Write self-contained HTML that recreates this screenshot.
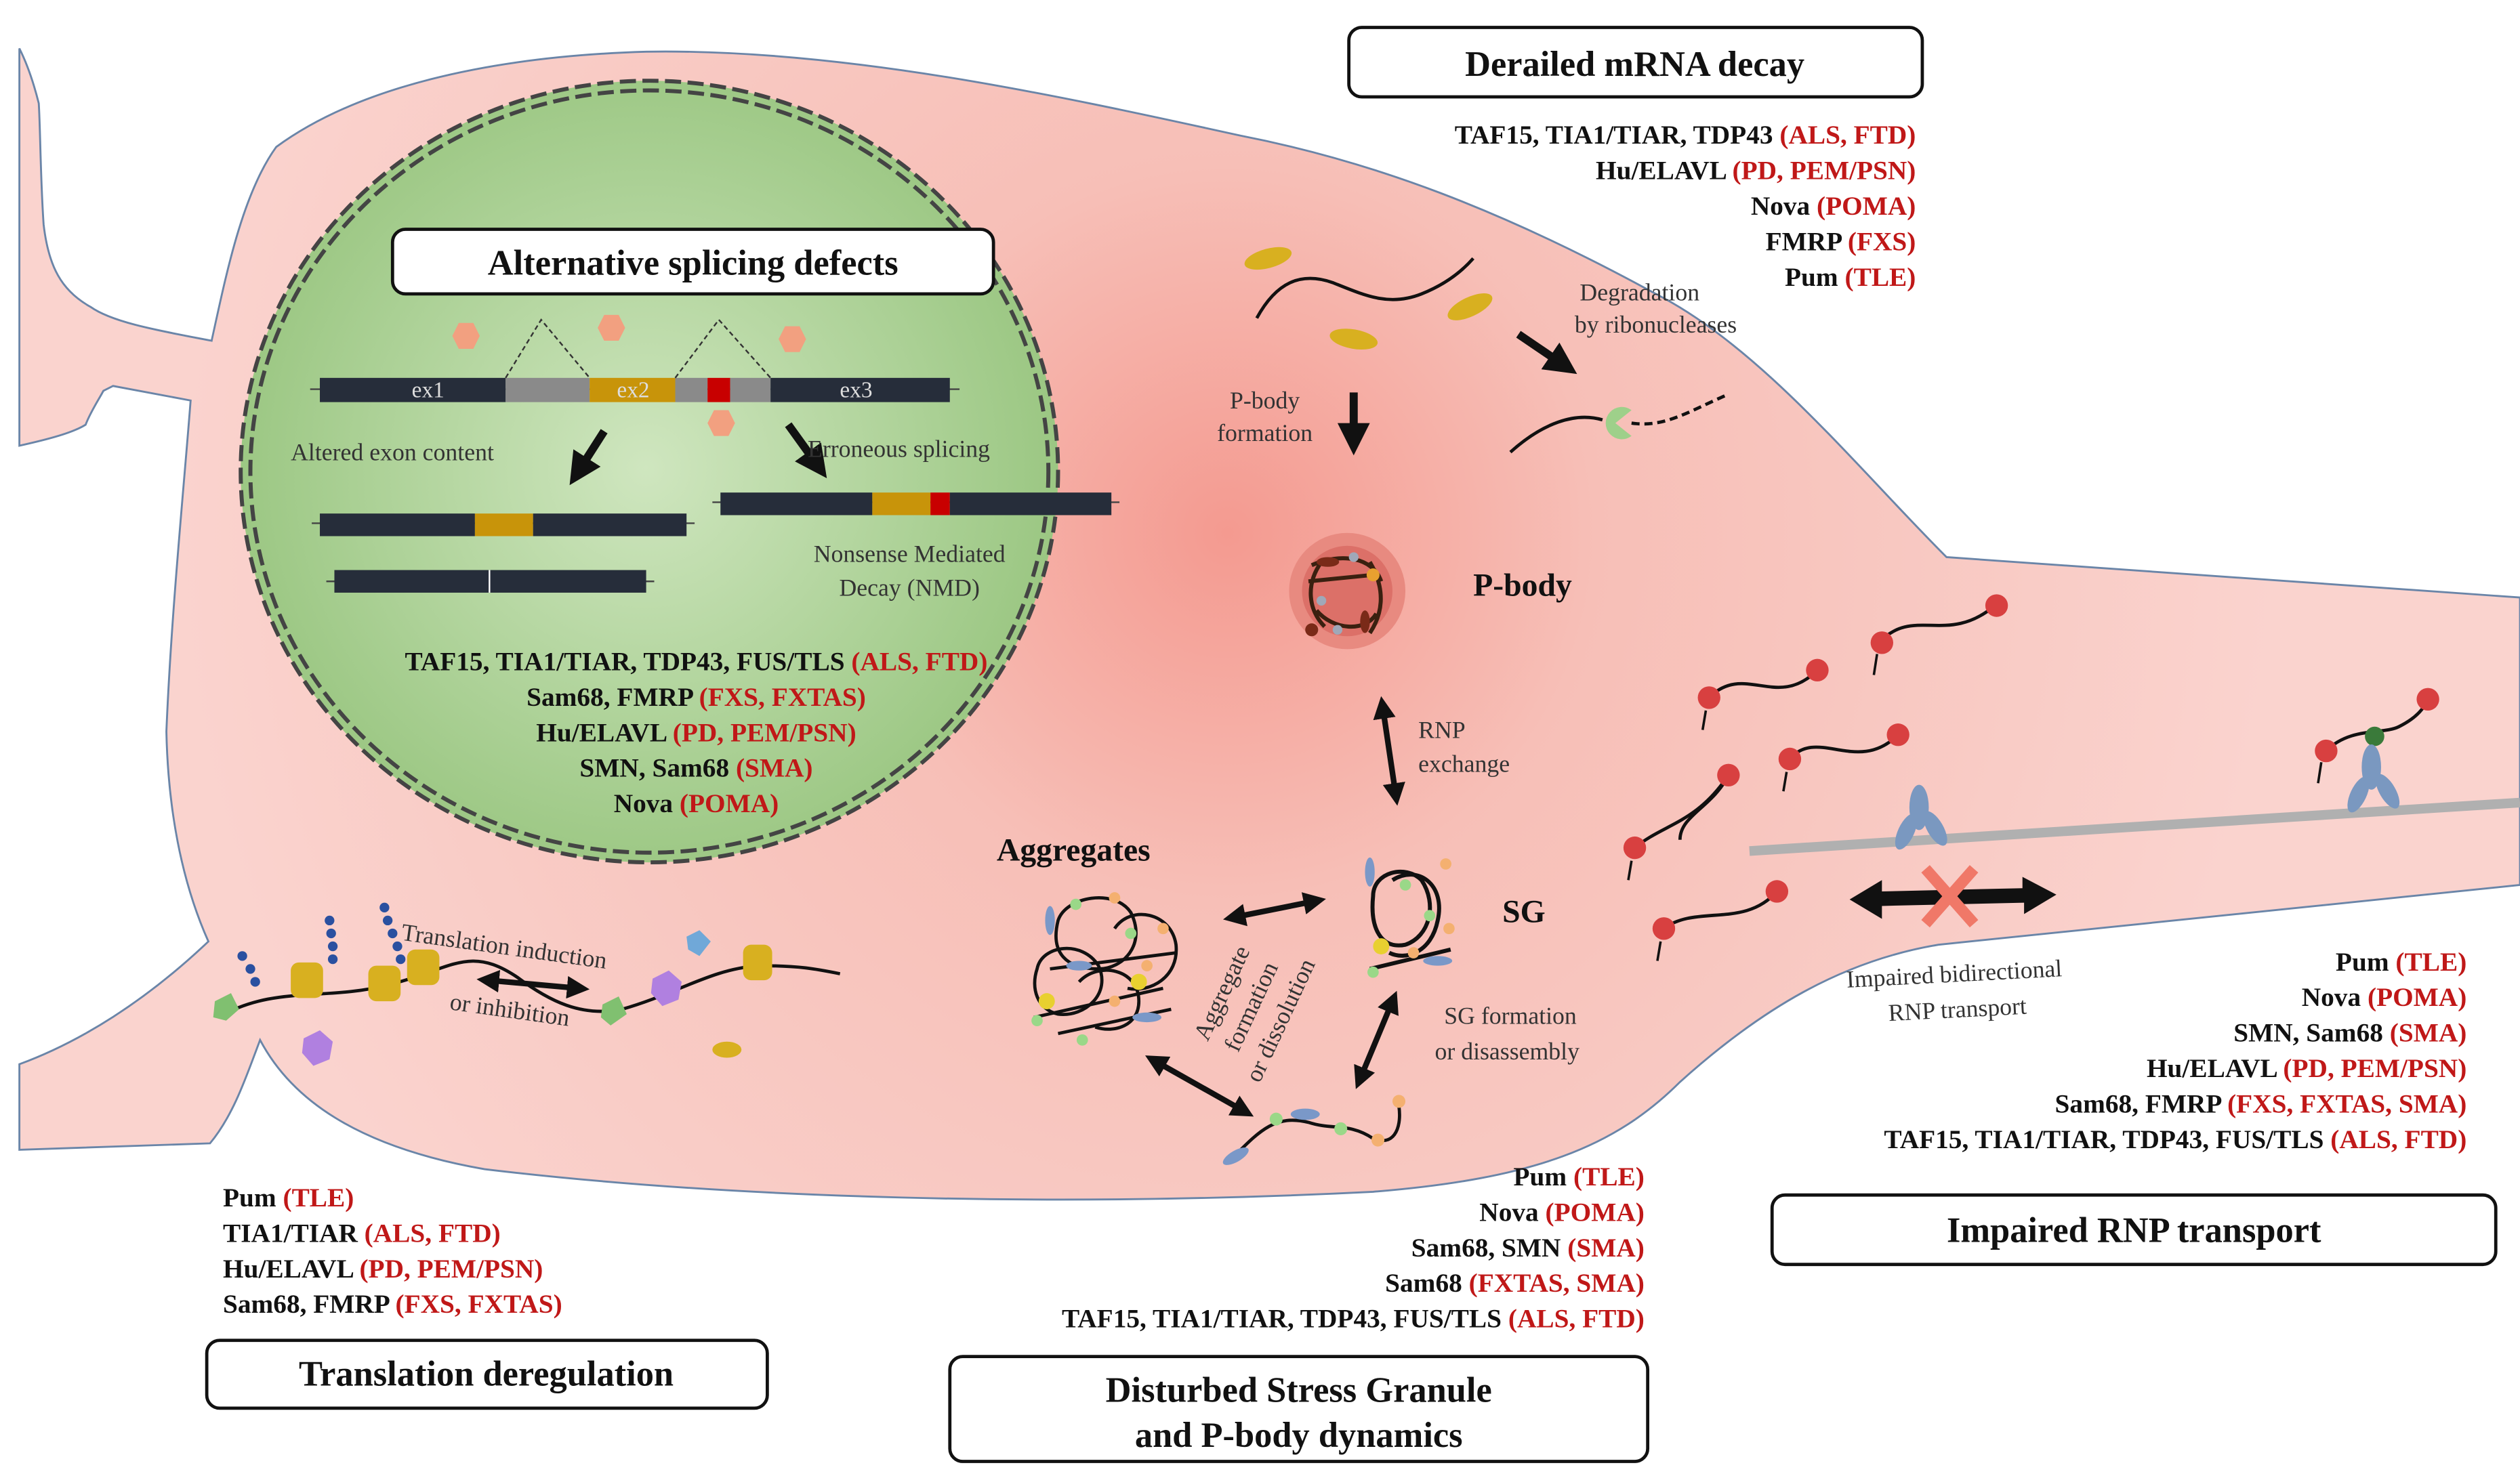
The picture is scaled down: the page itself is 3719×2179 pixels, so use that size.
<!DOCTYPE html>
<html><head><meta charset="utf-8"><style>
html,body{margin:0;padding:0;background:#fff;}
svg{display:block;}
text{font-family:"Liberation Serif",serif;}
.b{font-weight:bold;font-size:16.5px;fill:#111;}
.r{fill:#c01818;}
.t{font-size:15px;fill:#333;}
.h{font-size:22px;font-weight:bold;fill:#111;}
</style></head><body>
<svg width="3719" height="2179" viewBox="0 0 1560 914" preserveAspectRatio="none" xmlns="http://www.w3.org/2000/svg">
<defs>
<radialGradient id="pk" cx="760" cy="330" r="650" gradientUnits="userSpaceOnUse">
<stop offset="0" stop-color="#f49a90"/><stop offset="0.35" stop-color="#f7bfb7"/><stop offset="1" stop-color="#fad3ce"/></radialGradient>
<radialGradient id="gr" cx="400" cy="290" r="270" gradientUnits="userSpaceOnUse">
<stop offset="0" stop-color="#cfe6bf"/><stop offset="1" stop-color="#98c57f"/></radialGradient>
<marker id="ah" markerWidth="4" markerHeight="4" refX="2" refY="2" orient="auto"><path d="M0,0 L4,2 L0,4 z" fill="#111"/></marker>
<marker id="as" markerWidth="4" markerHeight="4" refX="2" refY="2" orient="auto-start-reverse"><path d="M0,0 L4,2 L0,4 z" fill="#111"/></marker>
</defs>
<rect width="1560" height="914" fill="#fff"/>
<!-- cell -->
<path d="M12,30 L12,276 C30,272 45,268 53,263 C56,255 62,246 64,242 L70,239 L118,248 C114,300 106,380 103,453 C104,500 112,545 129,583 C90,620 50,645 12,659 L12,712 L130,708 C145,690 153,665 161,644 C180,680 220,710 300,724 C450,742 650,748 850,738 C950,730 1000,710 1040,670 C1090,625 1140,595 1200,585 L1560,548 L1560,370 L1205,345 C1150,290 1090,215 1025,182 C930,130 850,100 768,84 C650,58 520,30 400,32 C300,35 220,55 171,91 C150,120 140,170 131,211 C100,205 70,200 56,190 C38,180 30,165 27,139 C25,110 25,80 24,64 C20,48 16,38 12,30 Z" fill="url(#pk)" stroke="#6a85a8" stroke-width="1.2"/>
<!-- green nucleus -->
<ellipse cx="402" cy="292" rx="253" ry="242" fill="url(#gr)" stroke="#444" stroke-width="2.5" stroke-dasharray="10,4"/>
<ellipse cx="402" cy="292" rx="247" ry="236" fill="none" stroke="#444" stroke-width="2.5" stroke-dasharray="10,4"/>
<!-- title boxes -->
<rect x="835" y="17" width="355" height="43" rx="8" fill="#fff" stroke="#111" stroke-width="2"/>
<text x="1012" y="47" text-anchor="middle" class="h">Derailed mRNA decay</text>
<rect x="243" y="142" width="372" height="40" rx="8" fill="#fff" stroke="#111" stroke-width="2"/>
<text x="429" y="170" text-anchor="middle" class="h">Alternative splicing defects</text>
<rect x="128" y="830" width="347" height="42" rx="8" fill="#fff" stroke="#111" stroke-width="2"/>
<text x="301" y="858" text-anchor="middle" class="h">Translation deregulation</text>
<rect x="588" y="840" width="432" height="65" rx="8" fill="#fff" stroke="#111" stroke-width="2"/>
<text x="804" y="868" text-anchor="middle" class="h">Disturbed Stress Granule</text>
<text x="804" y="896" text-anchor="middle" class="h">and P-body dynamics</text>
<rect x="1097" y="740" width="448" height="43" rx="8" fill="#fff" stroke="#111" stroke-width="2"/>
<text x="1321" y="769" text-anchor="middle" class="h">Impaired RNP transport</text>
<!-- lists -->
<g class="b" text-anchor="end">
<text x="1186" y="89">TAF15, TIA1/TIAR, TDP43 <tspan class="r">(ALS, FTD)</tspan></text>
<text x="1186" y="111">Hu/ELAVL <tspan class="r">(PD, PEM/PSN)</tspan></text>
<text x="1186" y="133">Nova <tspan class="r">(POMA)</tspan></text>
<text x="1186" y="155">FMRP <tspan class="r">(FXS)</tspan></text>
<text x="1186" y="177">Pum <tspan class="r">(TLE)</tspan></text>
</g>
<g class="b" text-anchor="middle">
<text x="431" y="415">TAF15, TIA1/TIAR, TDP43, FUS/TLS <tspan class="r">(ALS, FTD)</tspan></text>
<text x="431" y="437">Sam68, FMRP <tspan class="r">(FXS, FXTAS)</tspan></text>
<text x="431" y="459">Hu/ELAVL <tspan class="r">(PD, PEM/PSN)</tspan></text>
<text x="431" y="481">SMN, Sam68 <tspan class="r">(SMA)</tspan></text>
<text x="431" y="503">Nova <tspan class="r">(POMA)</tspan></text>
</g>
<g class="b">
<text x="138" y="747">Pum <tspan class="r">(TLE)</tspan></text>
<text x="138" y="769">TIA1/TIAR <tspan class="r">(ALS, FTD)</tspan></text>
<text x="138" y="791">Hu/ELAVL <tspan class="r">(PD, PEM/PSN)</tspan></text>
<text x="138" y="813">Sam68, FMRP <tspan class="r">(FXS, FXTAS)</tspan></text>
</g>
<g class="b" text-anchor="end">
<text x="1018" y="734">Pum <tspan class="r">(TLE)</tspan></text>
<text x="1018" y="756">Nova <tspan class="r">(POMA)</tspan></text>
<text x="1018" y="778">Sam68, SMN <tspan class="r">(SMA)</tspan></text>
<text x="1018" y="800">Sam68 <tspan class="r">(FXTAS, SMA)</tspan></text>
<text x="1018" y="822">TAF15, TIA1/TIAR, TDP43, FUS/TLS <tspan class="r">(ALS, FTD)</tspan></text>
</g>
<g class="b" text-anchor="end">
<text x="1527" y="601">Pum <tspan class="r">(TLE)</tspan></text>
<text x="1527" y="623">Nova <tspan class="r">(POMA)</tspan></text>
<text x="1527" y="645">SMN, Sam68 <tspan class="r">(SMA)</tspan></text>
<text x="1527" y="667">Hu/ELAVL <tspan class="r">(PD, PEM/PSN)</tspan></text>
<text x="1527" y="689">Sam68, FMRP <tspan class="r">(FXS, FXTAS, SMA)</tspan></text>
<text x="1527" y="711">TAF15, TIA1/TIAR, TDP43, FUS/TLS <tspan class="r">(ALS, FTD)</tspan></text>
</g>
<!-- splicing diagram -->
<line x1="192" y1="241" x2="594" y2="241" stroke="#444" stroke-width="1"/>
<rect x="198" y="234" width="115" height="15" fill="#262d3a"/>
<rect x="313" y="234" width="52" height="15" fill="#8a8a8a"/>
<rect x="365" y="234" width="53" height="15" fill="#c8940a"/>
<rect x="418" y="234" width="20" height="15" fill="#8a8a8a"/>
<rect x="438" y="234" width="14" height="15" fill="#c80000"/>
<rect x="452" y="234" width="25" height="15" fill="#8a8a8a"/>
<rect x="477" y="234" width="111" height="15" fill="#262d3a"/>
<g font-size="14" fill="#ddd" text-anchor="middle"><text x="265" y="246">ex1</text><text x="392" y="246">ex2</text><text x="530" y="246">ex3</text></g>
<path d="M313,234 L335,198 L365,234 M418,234 L445,198 L477,234" fill="none" stroke="#333" stroke-dasharray="3,2"/>
<g fill="#f2a080">
<polygon points="280,208 284,200 293,200 297,208 293,216 284,216"/>
<polygon points="370,203 374,195 383,195 387,203 383,211 374,211"/>
<polygon points="482,210 486,202 495,202 499,210 495,218 486,218"/>
<polygon points="438,262 442,254 451,254 455,262 451,270 442,270"/>
</g>
<line x1="374" y1="267" x2="358" y2="292" stroke="#111" stroke-width="5" marker-end="url(#ah)"/>
<line x1="488" y1="263" x2="506" y2="288" stroke="#111" stroke-width="5" marker-end="url(#ah)"/>
<text x="180" y="285" class="t">Altered exon content</text>
<text x="500" y="283" class="t">Erroneous splicing</text>
<line x1="193" y1="324" x2="430" y2="324" stroke="#444"/>
<rect x="198" y="318" width="96" height="14" fill="#262d3a"/><rect x="294" y="318" width="36" height="14" fill="#c8940a"/><rect x="330" y="318" width="95" height="14" fill="#262d3a"/>
<line x1="202" y1="360" x2="405" y2="360" stroke="#444"/>
<rect x="207" y="353" width="193" height="14" fill="#262d3a"/><line x1="303" y1="353" x2="303" y2="367" stroke="#fff"/>
<line x1="441" y1="311" x2="693" y2="311" stroke="#444"/>
<rect x="446" y="305" width="94" height="14" fill="#262d3a"/><rect x="540" y="305" width="36" height="14" fill="#c8940a"/><rect x="576" y="305" width="12" height="14" fill="#c80000"/><rect x="588" y="305" width="100" height="14" fill="#262d3a"/>
<text x="563" y="348" class="t" text-anchor="middle">Nonsense Mediated</text>
<text x="563" y="369" class="t" text-anchor="middle">Decay (NMD)</text>
<!-- mRNA decay -->
<path d="M778,197 C790,175 805,168 825,175 C845,183 860,190 880,182 C895,176 905,168 912,160" fill="none" stroke="#111" stroke-width="2"/>
<g fill="#d8b020"><ellipse cx="785" cy="160" rx="15" ry="6" transform="rotate(-15 785 160)"/><ellipse cx="838" cy="210" rx="15" ry="6" transform="rotate(10 838 210)"/><ellipse cx="910" cy="190" rx="15" ry="6" transform="rotate(-25 910 190)"/></g>
<text x="783" y="253" class="t" text-anchor="middle">P-body</text>
<text x="783" y="273" class="t" text-anchor="middle">formation</text>
<line x1="838" y1="243" x2="838" y2="272" stroke="#111" stroke-width="5" marker-end="url(#ah)"/>
<text x="1015" y="186" class="t" text-anchor="middle">Degradation</text>
<text x="1025" y="206" class="t" text-anchor="middle">by ribonucleases</text>
<line x1="940" y1="207" x2="968" y2="226" stroke="#111" stroke-width="5" marker-end="url(#ah)"/>
<path d="M935,280 C955,262 975,255 992,260" fill="none" stroke="#111" stroke-width="2"/>
<path d="M1010,262 C1030,265 1045,255 1068,245" fill="none" stroke="#111" stroke-width="2" stroke-dasharray="5,3"/>
<path d="M1010,254 A10,10 0 1 0 1010,270 L1000,262 Z" fill="#9ed08a"/>
<!-- P-body -->
<circle cx="834" cy="366" r="36" fill="#e88a80"/>
<circle cx="834" cy="366" r="28" fill="#dc7068"/>
<g fill="none" stroke="#3a2010" stroke-width="2.5"><path d="M812,350 C830,342 850,345 855,360 M815,378 C825,390 845,392 852,380 M818,348 C808,362 810,378 820,388 M848,348 C858,365 856,380 848,392 M810,360 L850,356"/></g>
<g fill="#7a2a18"><ellipse cx="822" cy="348" rx="7" ry="3"/><ellipse cx="845" cy="385" rx="3" ry="7"/><circle cx="812" cy="390" r="4"/></g>
<g fill="#a0a8b8"><circle cx="838" cy="345" r="3"/><circle cx="828" cy="390" r="3"/><circle cx="818" cy="372" r="3"/></g>
<circle cx="850" cy="356" r="4" fill="#e8a030"/>
<text x="912" y="369" font-size="20" font-weight="bold" fill="#111">P-body</text>
<line x1="856" y1="438" x2="864" y2="492" stroke="#111" stroke-width="3.5" marker-start="url(#as)" marker-end="url(#ah)"/>
<text x="878" y="457" class="t">RNP</text><text x="878" y="478" class="t">exchange</text>
<!-- SG -->
<g fill="none" stroke="#111" stroke-width="2.5">
<path d="M850,555 C850,540 870,535 880,545 C890,560 885,580 870,585 C855,588 848,575 850,555 Z"/>
<path d="M862,545 C878,535 895,548 890,570 C886,590 870,595 860,590"/>
<line x1="848" y1="600" x2="898" y2="588"/></g>
<g fill="#9ad888"><circle cx="870" cy="548" r="3.5"/><circle cx="885" cy="567" r="3.5"/><circle cx="850" cy="602" r="3.5"/></g>
<g fill="#f4b070"><circle cx="895" cy="535" r="3.5"/><circle cx="897" cy="575" r="3.5"/><circle cx="875" cy="590" r="3.5"/></g>
<g fill="#7a98c8"><ellipse cx="848" cy="540" rx="3" ry="9"/><ellipse cx="890" cy="595" rx="9" ry="3"/></g>
<circle cx="855" cy="586" r="5" fill="#e8d030"/>
<text x="930" y="571" font-size="20" font-weight="bold" fill="#111">SG</text>
<!-- aggregates -->
<text x="617" y="533" font-size="20" font-weight="bold" fill="#111">Aggregates</text>
<g fill="none" stroke="#111" stroke-width="2">
<path d="M655,570 C660,555 690,550 700,565 C710,585 695,600 680,600 C660,600 650,590 655,570Z"/>
<path d="M690,575 C700,560 725,565 728,585 C730,605 712,615 698,612"/>
<path d="M642,600 C645,585 670,582 680,598 C688,615 672,630 655,628 C642,625 638,612 642,600Z"/>
<path d="M668,608 C680,595 705,600 705,620 C705,635 690,640 678,636"/>
<line x1="640" y1="630" x2="720" y2="612"/><line x1="655" y1="640" x2="725" y2="625"/><line x1="650" y1="600" x2="728" y2="590"/></g>
<g fill="#9ad888"><circle cx="666" cy="560" r="3.5"/><circle cx="700" cy="578" r="3.5"/><circle cx="642" cy="632" r="3.5"/><circle cx="670" cy="644" r="3.5"/></g>
<g fill="#f4b070"><circle cx="690" cy="556" r="3.5"/><circle cx="720" cy="575" r="3.5"/><circle cx="710" cy="598" r="3.5"/><circle cx="690" cy="620" r="3.5"/></g>
<g fill="#7a98c8"><ellipse cx="650" cy="570" rx="3" ry="9"/><ellipse cx="710" cy="630" rx="9" ry="3"/><ellipse cx="668" cy="598" rx="8" ry="3"/></g>
<g fill="#e8d030"><circle cx="648" cy="620" r="5"/><circle cx="705" cy="608" r="5"/></g>
<line x1="764" y1="568" x2="814" y2="558" stroke="#111" stroke-width="3.5" marker-start="url(#as)" marker-end="url(#ah)"/>
<line x1="715" y1="657" x2="770" y2="688" stroke="#111" stroke-width="3.5" marker-start="url(#as)" marker-end="url(#ah)"/>
<line x1="862" y1="620" x2="842" y2="668" stroke="#111" stroke-width="3.5" marker-start="url(#as)" marker-end="url(#ah)"/>
<g transform="rotate(-65 778 625)" text-anchor="middle" class="t"><text x="778" y="606">Aggregate</text><text x="778" y="626">formation</text><text x="778" y="646">or dissolution</text></g>
<text x="935" y="634" class="t" text-anchor="middle">SG formation</text>
<text x="933" y="656" class="t" text-anchor="middle">or disassembly</text>
<path d="M765,715 C780,700 790,690 810,695 C825,700 835,695 850,705 C862,710 868,700 866,685" fill="none" stroke="#111" stroke-width="2"/>
<g fill="#9ad888"><circle cx="790" cy="693" r="4"/><circle cx="830" cy="699" r="4"/></g>
<g fill="#f4b070"><circle cx="866" cy="682" r="4"/><circle cx="853" cy="706" r="4"/></g>
<ellipse cx="808" cy="690" rx="9" ry="3.5" fill="#7a98c8"/><ellipse cx="765" cy="716" rx="9" ry="3.5" fill="#7a98c8" transform="rotate(-30 765 716)"/>
<!-- translation -->
<path d="M135,630 C170,610 200,620 240,610 C280,600 290,585 320,605 C340,620 360,630 385,625 C420,615 440,600 470,598 C495,598 505,600 520,603" fill="none" stroke="#111" stroke-width="2"/>
<g fill="#d8b020"><rect x="180" y="596" width="20" height="22" rx="5"/><rect x="228" y="598" width="20" height="22" rx="5"/><rect x="252" y="588" width="20" height="22" rx="5"/><rect x="460" y="585" width="18" height="22" rx="5"/><ellipse cx="450" cy="650" rx="9" ry="5"/></g>
<g fill="#2a50a0"><circle cx="150" cy="592" r="3"/><circle cx="155" cy="600" r="3"/><circle cx="158" cy="608" r="3"/><circle cx="204" cy="570" r="3"/><circle cx="205" cy="578" r="3"/><circle cx="206" cy="586" r="3"/><circle cx="206" cy="594" r="3"/><circle cx="238" cy="562" r="3"/><circle cx="240" cy="570" r="3"/><circle cx="243" cy="578" r="3"/><circle cx="246" cy="586" r="3"/><circle cx="248" cy="594" r="3"/></g>
<g fill="#80c070"><polygon points="133,620 143,615 148,625 140,632 132,630"/><polygon points="373,622 383,617 388,628 378,635 372,630"/></g>
<g fill="#b080e0"><polygon points="188,643 198,638 206,645 204,656 194,660 187,652"/><polygon points="404,606 414,601 422,608 420,619 410,623 403,615"/></g>
<polygon points="425,580 433,576 440,583 433,592 426,588" fill="#70a8d8"/>
<line x1="302" y1="607" x2="358" y2="612" stroke="#111" stroke-width="3.5" marker-start="url(#as)" marker-end="url(#ah)"/>
<text x="248" y="582" class="t" transform="rotate(8 248 582)">Translation induction</text>
<text x="278" y="625" class="t" transform="rotate(8 278 625)">or inhibition</text>
<!-- transport -->
<line x1="1083" y1="527" x2="1560" y2="497" stroke="#b0b0b0" stroke-width="6"/>
<g fill="none" stroke="#111" stroke-width="2">
<path d="M1058,432 C1080,410 1100,440 1125,415"/><path d="M1163,398 C1185,375 1205,400 1235,375"/>
<path d="M1070,480 C1060,500 1040,505 1040,520"/><path d="M1108,470 C1125,450 1150,480 1175,455"/>
<path d="M1012,525 C1030,510 1050,510 1070,480"/><path d="M1030,575 C1050,560 1080,575 1100,552"/>
<path d="M1440,465 C1455,450 1475,455 1485,450 C1495,445 1500,440 1505,430"/></g>
<g fill="#d84040">
<circle cx="1058" cy="432" r="7"/><circle cx="1125" cy="415" r="7"/><circle cx="1165" cy="398" r="7"/><circle cx="1236" cy="375" r="7"/><circle cx="1070" cy="480" r="7"/><circle cx="1108" cy="470" r="7"/><circle cx="1175" cy="455" r="7"/><circle cx="1012" cy="525" r="7"/><circle cx="1030" cy="575" r="7"/><circle cx="1100" cy="552" r="7"/><circle cx="1440" cy="465" r="7"/><circle cx="1503" cy="433" r="7"/></g>
<g stroke="#111" stroke-width="1.5"><line x1="1056" y1="440" x2="1054" y2="452"/><line x1="1162" y1="405" x2="1160" y2="418"/><line x1="1106" y1="478" x2="1104" y2="490"/><line x1="1010" y1="533" x2="1008" y2="545"/><line x1="1028" y1="583" x2="1026" y2="595"/><line x1="1437" y1="472" x2="1435" y2="485"/></g>
<circle cx="1470" cy="456" r="6" fill="#3a7a3a"/>
<g fill="#7a98c0"><ellipse cx="1188" cy="500" rx="6" ry="14"/><ellipse cx="1180" cy="515" rx="5" ry="12" transform="rotate(25 1180 515)"/><ellipse cx="1198" cy="513" rx="5" ry="12" transform="rotate(-30 1198 513)"/>
<ellipse cx="1468" cy="475" rx="6" ry="14"/><ellipse cx="1460" cy="492" rx="5" ry="12" transform="rotate(25 1460 492)"/><ellipse cx="1478" cy="490" rx="5" ry="12" transform="rotate(-30 1478 490)"/></g>
<path d="M1145,557 L1165,545 L1165,552 L1252,550 L1252,543 L1273,554 L1253,566 L1253,559 L1165,561 L1165,569 Z" fill="#111"/>
<g stroke="#f07868" stroke-width="7"><line x1="1192" y1="538" x2="1222" y2="572"/><line x1="1222" y1="538" x2="1192" y2="572"/></g>
<text x="1210" y="608" class="t" text-anchor="middle" transform="rotate(-3 1210 608)">Impaired bidirectional</text>
<text x="1212" y="630" class="t" text-anchor="middle" transform="rotate(-3 1212 630)">RNP transport</text>
</svg>
</body></html>
